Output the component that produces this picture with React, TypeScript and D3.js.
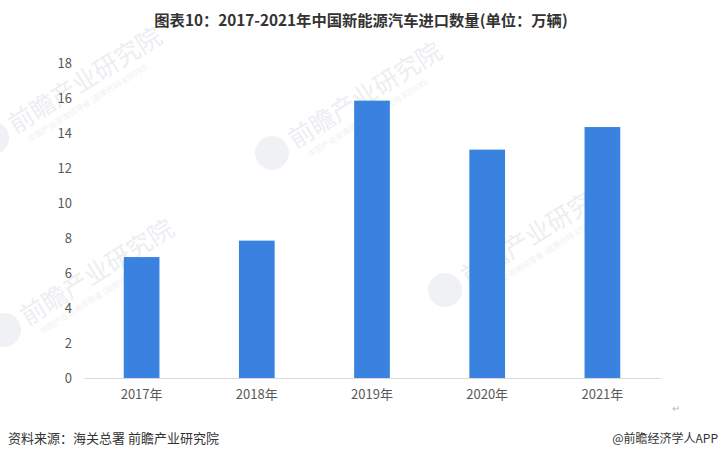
import React, { useEffect, useRef } from "react";
import * as d3 from "d3";

const years = ["2017年", "2018年", "2019年", "2020年", "2021年"];
const imports = [6.91, 7.85, 15.85, 13.05, 14.34];
const yTicks = [0, 2, 4, 6, 8, 10, 12, 14, 16, 18];

const titleText = "图表10：2017-2021年中国新能源汽车进口数量(单位：万辆)";
const sourceText = "资料来源：海关总署 前瞻产业研究院";
const brandText = "@前瞻经济学人APP";

// faint watermark spots (logo centre x, y)
const watermarks = [
  [-8, 138],
  [272, 153],
  [445, 290],
  [4, 330],
];

const W = 720;
const H = 460;
const margin = { top: 63, right: 60, bottom: 82, left: 84 };
const font = "'Noto Sans CJK SC', 'Noto Sans', sans-serif";

function ImportChart() {
  const svgRef: any = useRef();

  useEffect(() => {
    document.body.style.margin = "0";
    document.body.style.overflow = "hidden";

    const svg = d3.select(svgRef.current);
    svg.selectAll("*").remove();

    const innerW = W - margin.left - margin.right;
    const innerH = H - margin.top - margin.bottom;

    // watermarks behind everything
    const wm = svg.append("g").attr("class", "watermarks");
    watermarks.forEach(([cx, cy]) => {
      const g = wm
        .append("g")
        .attr("transform", `translate(${cx},${cy}) rotate(-32)`);
      g.append("circle").attr("r", 17).attr("fill", "#f0f1f5");
      g.append("text")
        .attr("x", 22)
        .attr("y", 9)
        .attr("font-family", font)
        .attr("font-size", 25)
        .attr("fill", "#eceef2")
        .text("前瞻产业研究院");
      g.append("text")
        .attr("x", 30)
        .attr("y", 24)
        .attr("font-family", font)
        .attr("font-size", 8)
        .attr("fill", "#f0f1f4")
        .text("中国产业咨询领导者 (股票代码 835990)");
    });

    const x = d3
      .scaleBand()
      .domain(years)
      .range([0, innerW])
      .paddingInner(0.69)
      .paddingOuter(0.345);

    const y = d3.scaleLinear().domain([0, 18]).range([innerH, 0]);

    const g = svg
      .append("g")
      .attr("transform", `translate(${margin.left},${margin.top})`);

    // bars
    g.selectAll(".bar")
      .data(imports)
      .join("rect")
      .attr("class", "bar")
      .attr("x", (_, i) => x(years[i]) as number)
      .attr("width", x.bandwidth())
      .attr("y", (d) => y(d))
      .attr("height", (d) => innerH - y(d))
      .attr("fill", "#3a82e0");

    // y axis (labels only)
    const yAxis: any = d3.axisLeft(y).tickValues(yTicks).tickSize(0).tickPadding(12);
    const ya = g.append("g").attr("class", "y-axis").call(yAxis);
    ya.select(".domain").remove();
    ya.selectAll("text")
      .attr("font-family", font)
      .attr("font-size", 13)
      .attr("fill", "#595959");

    // x axis
    const xAxis: any = d3.axisBottom(x).tickSize(0).tickPadding(12);
    const xa = g
      .append("g")
      .attr("class", "x-axis")
      .attr("transform", `translate(0,${innerH})`)
      .call(xAxis);
    xa.select(".domain").attr("stroke", "#d9d9d9");
    xa.selectAll("text")
      .attr("font-family", font)
      .attr("font-size", 13)
      .attr("fill", "#595959");

    // title
    svg
      .append("text")
      .attr("x", 361)
      .attr("y", 26)
      .attr("text-anchor", "middle")
      .attr("font-family", font)
      .attr("font-size", 15.3)
      .attr("font-weight", "bold")
      .attr("fill", "#333333")
      .text(titleText);

    // footer
    svg
      .append("text")
      .attr("x", 8)
      .attr("y", 443)
      .attr("font-family", font)
      .attr("font-size", 13)
      .attr("fill", "#333333")
      .text(sourceText);

    svg
      .append("text")
      .attr("x", 718)
      .attr("y", 443)
      .attr("text-anchor", "end")
      .attr("font-family", font)
      .attr("font-size", 12)
      .attr("fill", "#333333")
      .text(brandText);

    svg
      .append("text")
      .attr("x", 672)
      .attr("y", 412)
      .attr("font-family", font)
      .attr("font-size", 10)
      .attr("fill", "#bbbbbb")
      .text("↵");
  }, []);

  return <svg ref={svgRef} width={W} height={H} style={{ display: "block" }} />;
}

export default function App() {
  return (
    <div style={{ background: "#ffffff", width: W, height: H }}>
      <ImportChart />
    </div>
  );
}
